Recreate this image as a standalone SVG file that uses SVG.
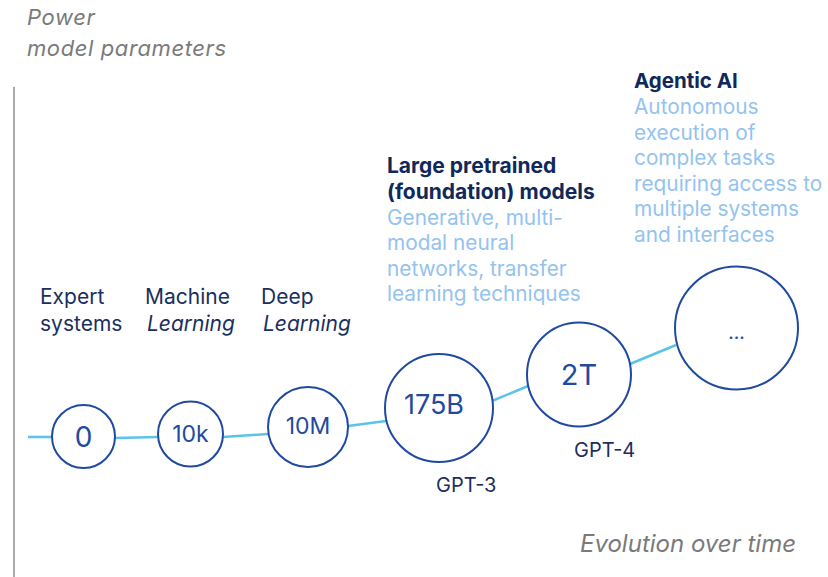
<svg xmlns="http://www.w3.org/2000/svg" width="828" height="577" viewBox="0 0 828 577">
<style>
.ax{font-family:Inter,"Noto Sans",sans-serif;font-style:italic;fill:#7a7a7a;font-size:22px;letter-spacing:0.6px}
.lb{font-family:Inter,"Noto Sans",sans-serif;fill:#1b2f5e;font-size:21px}
.lbi{font-style:italic}
.tt{font-family:Inter,"Noto Sans",sans-serif;font-weight:700;fill:#10295a;font-size:20.5px}
.ds{font-family:Inter,"Noto Sans",sans-serif;fill:#94c3ef;font-size:20.8px}
.nd{fill:#fff;stroke:#1f4aa0;stroke-width:2}
.nt{font-family:Inter,"Noto Sans",sans-serif;fill:#1f4aa0;text-anchor:middle;dominant-baseline:central}
.cn{fill:none;stroke:#5bc3e6;stroke-width:2.5}
</style>
<rect width="828" height="577" fill="#fff"/>
<line x1="14" y1="87" x2="14" y2="577" stroke="#aaa" stroke-width="2"/>
<text class="ax" x="27" y="25">Power</text>
<text class="ax" x="27" y="56">model parameters</text>
<text class="ax" x="580" y="552" style="font-size:24px;letter-spacing:0">Evolution over time</text>
<g id="connectors">
<path class="cn" d="M28 437 L52 437"/>
<path class="cn" d="M115 438 L158 437"/>
<path class="cn" d="M223 437 L268 434"/>
<path class="cn" d="M348 426 L386 421"/>
<path class="cn" d="M492 401 L528 386"/>
<path class="cn" d="M630 364 L676 345"/>
</g>
<g id="n0"><circle class="nd" cx="83.5" cy="436.5" r="31.5"/><text class="nt" x="83.5" y="437" font-size="28">0</text></g>
<g id="n10k"><circle class="nd" cx="190.5" cy="434" r="32.5"/><text class="nt" x="190.5" y="434" font-size="23">10k</text></g>
<g id="n10M"><circle class="nd" cx="308" cy="427" r="40"/><text class="nt" x="308" y="426" font-size="23">10M</text></g>
<g id="n175B"><circle class="nd" cx="439" cy="408" r="54"/><text class="nt" x="434" y="404" font-size="27">175B</text></g>
<g id="n2T"><circle class="nd" cx="579" cy="374.5" r="52"/><text class="nt" x="579" y="374" font-size="29">2T</text></g>
<g id="nAI"><circle class="nd" cx="736.5" cy="328" r="61.5"/><text class="nt" x="736.5" y="332" font-size="19">...</text></g>
<g id="l-expert"><text class="lb" x="40" y="304">Expert</text><text class="lb" x="40" y="331">systems</text></g>
<g id="l-ml"><text class="lb" x="145" y="304">Machine</text><text class="lb lbi" x="147" y="331">Learning</text></g>
<g id="l-dl"><text class="lb" x="261" y="304">Deep</text><text class="lb lbi" x="263" y="331">Learning</text></g>
<g id="l-found">
<text class="tt" x="387" y="173" style="font-size:21px">Large pretrained</text>
<text class="tt" x="387" y="199" style="font-size:21px">(foundation) models</text>
<text class="ds" x="387" y="225">Generative, multi-</text>
<text class="ds" x="387" y="250">modal neural</text>
<text class="ds" x="387" y="276">networks, transfer</text>
<text class="ds" x="387" y="301">learning techniques</text>
</g>
<g id="l-agentic">
<text class="tt" x="634" y="88">Agentic AI</text>
<text class="ds" x="634" y="114">Autonomous</text>
<text class="ds" x="634" y="140">execution of</text>
<text class="ds" x="634" y="165">complex tasks</text>
<text class="ds" x="634" y="191">requiring access to</text>
<text class="ds" x="634" y="216">multiple systems</text>
<text class="ds" x="634" y="242">and interfaces</text>
</g>
<text class="lb" x="436" y="492" style="font-size:20px">GPT-3</text>
<text class="lb" x="574" y="457" style="font-size:20px">GPT-4</text>
</svg>
